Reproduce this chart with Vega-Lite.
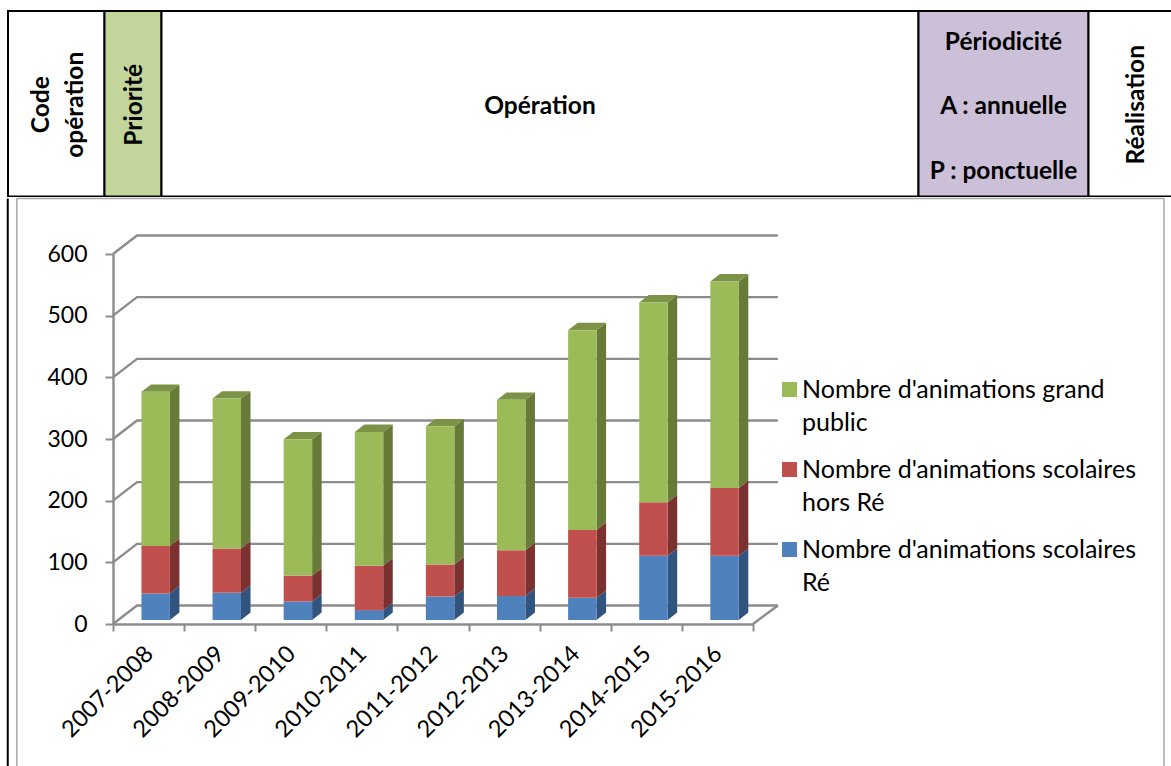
{
"$schema":"https://vega.github.io/schema/vega-lite/v6.json",
"padding":0,
"spacing":0,
"background":"white",
"config":{"view":{"stroke":null},"concat":{"spacing":0}},
"datasets":{
"anim":[
{"period":"2007-2008","i":0,"s":0,"serie":"Nombre d'animations scolaires Ré","value":43},
{"period":"2007-2008","i":0,"s":1,"serie":"Nombre d'animations scolaires hors Ré","value":77},
{"period":"2007-2008","i":0,"s":2,"serie":"Nombre d'animations grand public","value":250},
{"period":"2008-2009","i":1,"s":0,"serie":"Nombre d'animations scolaires Ré","value":44},
{"period":"2008-2009","i":1,"s":1,"serie":"Nombre d'animations scolaires hors Ré","value":72},
{"period":"2008-2009","i":1,"s":2,"serie":"Nombre d'animations grand public","value":243},
{"period":"2009-2010","i":2,"s":0,"serie":"Nombre d'animations scolaires Ré","value":30},
{"period":"2009-2010","i":2,"s":1,"serie":"Nombre d'animations scolaires hors Ré","value":42},
{"period":"2009-2010","i":2,"s":2,"serie":"Nombre d'animations grand public","value":221},
{"period":"2010-2011","i":3,"s":0,"serie":"Nombre d'animations scolaires Ré","value":16},
{"period":"2010-2011","i":3,"s":1,"serie":"Nombre d'animations scolaires hors Ré","value":72},
{"period":"2010-2011","i":3,"s":2,"serie":"Nombre d'animations grand public","value":217},
{"period":"2011-2012","i":4,"s":0,"serie":"Nombre d'animations scolaires Ré","value":38},
{"period":"2011-2012","i":4,"s":1,"serie":"Nombre d'animations scolaires hors Ré","value":52},
{"period":"2011-2012","i":4,"s":2,"serie":"Nombre d'animations grand public","value":224},
{"period":"2012-2013","i":5,"s":0,"serie":"Nombre d'animations scolaires Ré","value":39},
{"period":"2012-2013","i":5,"s":1,"serie":"Nombre d'animations scolaires hors Ré","value":74},
{"period":"2012-2013","i":5,"s":2,"serie":"Nombre d'animations grand public","value":244},
{"period":"2013-2014","i":6,"s":0,"serie":"Nombre d'animations scolaires Ré","value":36},
{"period":"2013-2014","i":6,"s":1,"serie":"Nombre d'animations scolaires hors Ré","value":110},
{"period":"2013-2014","i":6,"s":2,"serie":"Nombre d'animations grand public","value":324},
{"period":"2014-2015","i":7,"s":0,"serie":"Nombre d'animations scolaires Ré","value":104},
{"period":"2014-2015","i":7,"s":1,"serie":"Nombre d'animations scolaires hors Ré","value":87},
{"period":"2014-2015","i":7,"s":2,"serie":"Nombre d'animations grand public","value":324},
{"period":"2015-2016","i":8,"s":0,"serie":"Nombre d'animations scolaires Ré","value":104},
{"period":"2015-2016","i":8,"s":1,"serie":"Nombre d'animations scolaires hors Ré","value":110},
{"period":"2015-2016","i":8,"s":2,"serie":"Nombre d'animations grand public","value":335}
],
"cells":[
{"k":0,"cell":"Code opération","w":96.5,"label":"Code\nopération","vertical":true},
{"k":1,"cell":"Priorité","w":57,"label":"Priorité","vertical":true},
{"k":2,"cell":"Opération","w":757,"label":"Opération","vertical":false},
{"k":3,"cell":"Périodicité","w":170,"label":"Périodicité\nA : annuelle\nP : ponctuelle","vertical":false},
{"k":4,"cell":"Réalisation","w":94,"label":"Réalisation","vertical":true}
],
"levels":[{"level":0},{"level":100},{"level":200},{"level":300},{"level":400},{"level":500},{"level":600}]
},
"vconcat":[
{
"width":1171,"height":197,
"data":{"name":"cells"},
"transform":[
{"stack":"w","sort":[{"field":"k","order":"ascending"}],"as":["c0","c1"]},
{"calculate":"(datum.c0+datum.c1)/2","as":"cm"}
],
"layer":[
{"mark":{"type":"rect","stroke":"black","strokeWidth":2,"clip":true},
"encoding":{
"x":{"field":"c0","type":"quantitative","axis":null,"scale":{"domain":[0,1171],"range":[8,1179],"nice":false,"zero":false,"clamp":false}},
"x2":{"field":"c1"},
"y":{"datum":0,"type":"quantitative","axis":null,"scale":{"domain":[0,185],"range":[11,196.5],"nice":false,"zero":false}},
"y2":{"datum":185},
"fill":{"field":"cell","type":"nominal","legend":null,"scale":{"domain":["Code opération","Priorité","Opération","Périodicité","Réalisation"],"range":["#ffffff","#c2d69b","#ffffff","#ccc0d9","#ffffff"]}}
}},
{"transform":[{"filter":"datum.k==2"}],
"mark":{"type":"text","font":"Lato","fontWeight":"bold","fontSize":24.5,"align":"center","baseline":"middle","color":"black"},
"encoding":{
"x":{"field":"cm","type":"quantitative","axis":null},
"y":{"datum":95.5,"type":"quantitative","axis":null},
"text":{"field":"label","type":"nominal"}
}},
{"transform":[{"filter":"datum.k==3"}],
"mark":{"type":"text","font":"Lato","fontWeight":"bold","fontSize":24.5,"lineBreak":"\n","lineHeight":64.5,"align":"center","baseline":"middle","color":"black"},
"encoding":{
"x":{"field":"cm","type":"quantitative","axis":null},
"y":{"datum":31.5,"type":"quantitative","axis":null},
"text":{"field":"label","type":"nominal"}
}},
{"transform":[{"filter":"datum.k==1||datum.k==4"}],
"mark":{"type":"text","font":"Lato","fontWeight":"bold","fontSize":24.5,"align":"center","baseline":"middle","angle":270,"dy":1.5,"color":"black"},
"encoding":{
"x":{"field":"cm","type":"quantitative","axis":null},
"y":{"datum":93.5,"type":"quantitative","axis":null},
"text":{"field":"label","type":"nominal"}
}},
{"transform":[{"filter":"datum.k==0"}],
"mark":{"type":"text","font":"Lato","fontWeight":"bold","fontSize":24.5,"lineBreak":"\n","lineHeight":34,"align":"center","baseline":"middle","angle":270,"dy":-14,"color":"black"},
"encoding":{
"x":{"field":"cm","type":"quantitative","axis":null},
"y":{"datum":93.5,"type":"quantitative","axis":null},
"text":{"field":"label","type":"nominal"}
}}
]
},
{
"width":1171,"height":569,
"resolve":{"axis":{"x":"independent","y":"independent"}},
"layer":[
{"data":{"values":[{"edge":"left"}]},
"mark":{"type":"rule","stroke":"black","strokeWidth":2},
"encoding":{
"x":{"datum":-1.48,"type":"quantitative","axis":null,"scale":{"domain":[0,9],"range":[113,753],"nice":false,"zero":false}},
"y":{"datum":690,"type":"quantitative","axis":null,"scale":{"domain":[0,600],"range":[426,56],"nice":false,"zero":false}},
"y2":{"datum":-231}
}},
{"data":{"values":[{"edge":"frame"}]},
"mark":{"type":"rule","stroke":"#a6a6a6","strokeWidth":1.5},
"encoding":{"x":{"datum":-1.352,"type":"quantitative","axis":null},"y":{"datum":690,"type":"quantitative","axis":null},"y2":{"datum":-231}}},
{"data":{"values":[{"edge":"frame"}]},
"mark":{"type":"rule","stroke":"#a6a6a6","strokeWidth":1.5},
"encoding":{"x":{"datum":14.78,"type":"quantitative","axis":null},"y":{"datum":690,"type":"quantitative","axis":null},"y2":{"datum":-231}}},
{"data":{"values":[{"edge":"frame"}]},
"mark":{"type":"rule","stroke":"#a6a6a6","strokeWidth":1.5},
"encoding":{"x":{"datum":-1.352,"type":"quantitative","axis":null},"x2":{"datum":14.78},"y":{"datum":690,"type":"quantitative","axis":null}}},
{"data":{"name":"levels"},
"transform":[
{"calculate":"[0,1,2]","as":"pt"},
{"flatten":["pt"]},
{"calculate":"datum.pt==0?0:datum.pt==1?0.3375:9.35","as":"gx"},
{"calculate":"datum.pt==0?datum.level:datum.level+30","as":"gy"}
],
"mark":{"type":"line","stroke":"#8c8c8c","strokeWidth":2.4,"interpolate":"linear"},
"encoding":{
"x":{"field":"gx","type":"quantitative","axis":{"orient":"bottom","offset":-143,"values":[0,1,2,3,4,5,6,7,8,9],"labels":false,"title":null,"grid":false,"domainColor":"#8c8c8c","domainWidth":2.4,"tickColor":"#8c8c8c","tickWidth":2,"tickSize":7}},
"y":{"field":"gy","type":"quantitative","axis":{"orient":"left","offset":-113,"values":[0,100,200,300,400,500,600],"title":null,"grid":false,"domainColor":"#8c8c8c","domainWidth":2.4,"tickColor":"#8c8c8c","tickWidth":2,"tickSize":8,"labelFont":"Lato","labelFontSize":23,"labelPadding":18,"labelColor":"black"}},
"detail":{"field":"level","type":"quantitative"},
"order":{"field":"pt","type":"quantitative"}
}},
{"data":{"values":[{"pt":0},{"pt":1}]},
"transform":[{"calculate":"9+datum.pt*0.35","as":"fx"},{"calculate":"datum.pt*30","as":"fy"}],
"mark":{"type":"line","stroke":"#8c8c8c","strokeWidth":2.4},
"encoding":{"x":{"field":"fx","type":"quantitative","axis":null},"y":{"field":"fy","type":"quantitative","axis":null}}},
{"data":{"name":"anim"},
"transform":[
{"stack":"value","groupby":["period"],"sort":[{"field":"s","order":"ascending"}],"as":["v0","v1"]},
{"calculate":"datum.v0+6.5","as":"b0"},
{"calculate":"datum.v1+6.5","as":"b1"},
{"calculate":"datum.i+0.8","as":"xb"},
{"calculate":"[0,1]","as":"pt"},
{"flatten":["pt"]},
{"calculate":"datum.xb+datum.pt*0.134","as":"sx"},
{"calculate":"datum.b0+datum.pt*12","as":"slo"},
{"calculate":"datum.b1+datum.pt*12","as":"shi"},
{"calculate":"['#31547e','#7b3130','#677a38'][datum.s]","as":"shade"}
],
"mark":{"type":"area","orient":"vertical"},
"encoding":{
"x":{"field":"sx","type":"quantitative","axis":null},
"y":{"field":"slo","type":"quantitative","axis":null,"stack":null},
"y2":{"field":"shi"},
"fill":{"field":"shade","type":"nominal","scale":null},
"detail":{"field":"i","type":"quantitative"}
}},
{"data":{"name":"anim"},
"transform":[
{"stack":"value","groupby":["period"],"sort":[{"field":"s","order":"ascending"}],"as":["v0","v1"]},
{"filter":"datum.s==2"},
{"calculate":"datum.v1+6.5","as":"t"},
{"calculate":"[0,1,2,3]","as":"pt"},
{"flatten":["pt"]},
{"calculate":"datum.i+0.4+[0,0.134,0.4,0.534][datum.pt]","as":"tx"},
{"calculate":"datum.pt==3?datum.t+12:datum.t","as":"tlo"},
{"calculate":"datum.pt==0?datum.t:datum.t+12","as":"thi"}
],
"mark":{"type":"area","orient":"vertical","fill":"#7c9247"},
"encoding":{
"x":{"field":"tx","type":"quantitative","axis":null},
"y":{"field":"tlo","type":"quantitative","axis":null,"stack":null},
"y2":{"field":"thi"},
"detail":{"field":"i","type":"quantitative"}
}},
{"data":{"name":"anim"},
"transform":[
{"stack":"value","groupby":["period"],"sort":[{"field":"s","order":"ascending"}],"as":["v0","v1"]},
{"calculate":"datum.v0+6.5","as":"b0"},
{"calculate":"datum.v1+6.5","as":"b1"},
{"calculate":"datum.i+0.4","as":"xa"},
{"calculate":"datum.i+0.8","as":"xb"}
],
"mark":{"type":"rect"},
"encoding":{
"x":{"field":"xa","type":"quantitative","axis":null},
"x2":{"field":"xb"},
"y":{"field":"b0","type":"quantitative","axis":null,"stack":null},
"y2":{"field":"b1"},
"color":{"field":"serie","type":"nominal","scale":{"domain":["Nombre d'animations grand public","Nombre d'animations scolaires hors Ré","Nombre d'animations scolaires Ré"],"range":["#9bbb59","#c0504d","#4f81bd"]},
"legend":{"orient":"none","legendX":777,"legendY":377,"title":null,"symbolType":"square","symbolSize":225,"symbolStrokeWidth":0,"labelFont":"Lato","labelFontSize":25,"labelColor":"black","labelLimit":500,"labelOffset":0,"labelBaseline":"alphabetic","rowPadding":21,
"labelExpr":"datum.label=='Nombre d\\'animations grand public'?['Nombre d\\'animations grand','public']:datum.label=='Nombre d\\'animations scolaires hors Ré'?['Nombre d\\'animations scolaires','hors Ré']:['Nombre d\\'animations scolaires','Ré']",
"encode":{"labels":{"update":{"lineHeight":{"value":33},"dy":{"value":8}}}}}}
}},
{"data":{"name":"anim"},
"transform":[{"filter":"datum.s==0"},{"calculate":"datum.i+0.515","as":"lx"}],
"mark":{"type":"text","font":"Lato","fontSize":23.5,"angle":315,"align":"right","baseline":"middle","color":"black"},
"encoding":{
"x":{"field":"lx","type":"quantitative","axis":null},
"y":{"datum":-43,"type":"quantitative","axis":null},
"text":{"field":"period","type":"nominal"}
}}
]
}
]
}
